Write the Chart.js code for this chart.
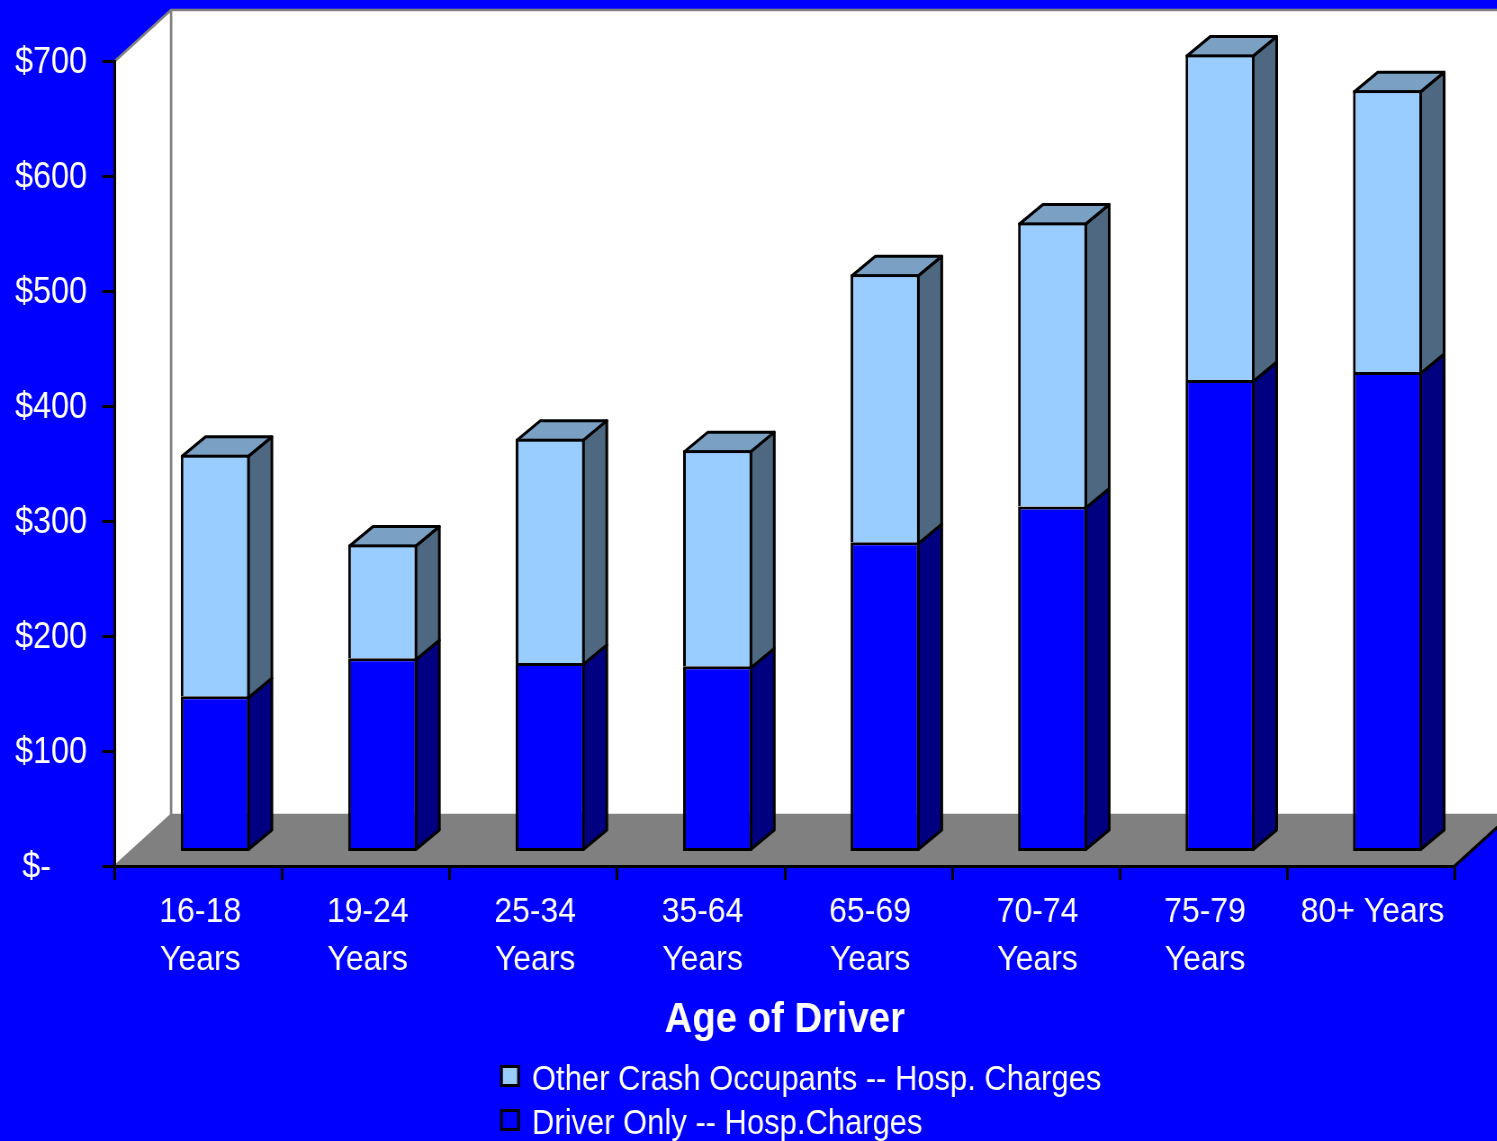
<!DOCTYPE html>
<html>
<head>
<meta charset="utf-8">
<title>Hospital charges by age of driver</title>
<script src="https://cdn.jsdelivr.net/npm/chart.js@4"></script>
<style>
  html, body { margin: 0; background: #0000ff; overflow: hidden; }
  /* narrow type: the canvas is laid out wider and squeezed back */
  #myChart { position: absolute; left: 0; top: 0; transform-origin: 0 0; transform: scaleX(0.9); }
</style>
</head>
<body>
<canvas id="myChart" width="1663" height="1141"></canvas>
<script>
const SQUEEZE = 0.9;

const categories = [
  ["16-18", "Years"], ["19-24", "Years"], ["25-34", "Years"], ["35-64", "Years"],
  ["65-69", "Years"], ["70-74", "Years"], ["75-79", "Years"], "80+ Years",
];
const driverOnly = [135, 168, 164, 161, 269, 300, 410, 417];
const otherOccupants = [210, 99, 195, 188, 233, 247, 283, 245];
const yTickLabels = ["$-\u00a0\u00a0\u00a0\u00a0", "$100", "$200", "$300", "$400", "$500", "$600", "$700"];

const FONT = "'Liberation Sans', Arial, sans-serif";
const WHITE = "#ffffff";
const WALL_DX = 56 / SQUEEZE, WALL_DY = -51;
const BAR_DX = 16.5 / SQUEEZE, BAR_DY = -14.5;
const SIDE_DX = 23.5 / SQUEEZE, SIDE_DY = -19.5;
const BORDER = 3;

const poly = (ctx, pts, fill, stroke, lw) => {
  ctx.beginPath();
  pts.forEach((p, i) => (i ? ctx.lineTo(p[0], p[1]) : ctx.moveTo(p[0], p[1])));
  ctx.closePath();
  if (fill) { ctx.fillStyle = fill; ctx.fill(); }
  if (stroke) { ctx.strokeStyle = stroke; ctx.lineWidth = lw; ctx.lineJoin = "round"; ctx.stroke(); }
};

// back wall, side wall and floor behind the axes
const room = {
  id: "room",
  beforeDraw(chart) {
    const { ctx, chartArea: a } = chart;
    ctx.save();
    ctx.fillStyle = "#0000ff";
    ctx.fillRect(0, 0, chart.width, chart.height);
    const backLeft = a.left + WALL_DX, backRight = a.right + WALL_DX;
    const backTop = a.top + WALL_DY, backBottom = a.bottom + WALL_DY;
    poly(ctx, [[backLeft, backTop], [backRight, backTop], [backRight, backBottom], [backLeft, backBottom]], WHITE, "#808080", 2.5);
    poly(ctx, [[a.left, a.top], [backLeft, backTop], [backLeft, backBottom], [a.left, a.bottom]], WHITE, "#808080", 2.5);
    poly(ctx, [[a.left, a.bottom], [backLeft, backBottom], [backRight, backBottom], [a.right, a.bottom]], "#808080");
    ctx.beginPath();
    ctx.moveTo(a.right, a.bottom);
    ctx.lineTo(backRight, backBottom);
    ctx.strokeStyle = "#000";
    ctx.lineWidth = 3;
    ctx.stroke();
    ctx.restore();
  },
};

// side and top faces of each bar; the front faces come from Chart.js, pushed into the room
const boxes = {
  id: "boxes",
  beforeDatasetsDraw(chart) {
    const { ctx } = chart;
    ctx.save();
    ctx.translate(BAR_DX, BAR_DY);
    const inset = BORDER / 2;
    chart.data.datasets.forEach((ds, d) => {
      chart.getDatasetMeta(d).data.forEach((bar) => {
        const r = bar.x + bar.width / 2 - inset, l = bar.x - bar.width / 2 + inset;
        const top = bar.y + inset;
        const bottom = d === 0 ? bar.base - inset : bar.base + inset;
        poly(ctx, [[r, top], [r + SIDE_DX, top + SIDE_DY], [r + SIDE_DX, bottom + SIDE_DY], [r, bottom]], ds.sideColor, "#000", BORDER);
        if (d === chart.data.datasets.length - 1) {
          poly(ctx, [[l, top], [l + SIDE_DX, top + SIDE_DY], [r + SIDE_DX, top + SIDE_DY], [r, top]], ds.topColor, "#000", BORDER);
        }
      });
    });
  },
  afterDatasetsDraw(chart) {
    chart.ctx.restore();
  },
};

// two stacked rows, upper series first
const legendRows = {
  id: "legendRows",
  afterDraw(chart) {
    const { ctx } = chart;
    ctx.save();
    ctx.font = "34.4px " + FONT;
    ctx.textBaseline = "alphabetic";
    [...chart.data.datasets].reverse().forEach((ds, i) => {
      const y = 1066.5 + i * 44;
      ctx.fillStyle = ds.backgroundColor;
      ctx.strokeStyle = "#000";
      ctx.lineWidth = 3;
      ctx.fillRect(501.5 / SQUEEZE, y, 17 / SQUEEZE, 19);
      ctx.strokeRect(501.5 / SQUEEZE, y, 17 / SQUEEZE, 19);
      ctx.fillStyle = WHITE;
      ctx.fillText(ds.label, 532 / SQUEEZE, y + 23.5);
    });
    ctx.restore();
  },
};

new Chart(document.getElementById("myChart"), {
  type: "bar",
  data: {
    labels: categories,
    datasets: [
      {
        label: "Driver Only -- Hosp.Charges",
        data: driverOnly,
        backgroundColor: "#0000ff",
        sideColor: "#000080",
        borderSkipped: false,
      },
      {
        label: "Other Crash Occupants -- Hosp. Charges",
        data: otherOccupants,
        backgroundColor: "#99ccff",
        sideColor: "#4d6880",
        topColor: "#7aa0c4",
      },
    ],
  },
  options: {
    responsive: false,
    animation: false,
    events: [],
    layout: { padding: { left: 0, right: 42 / SQUEEZE, top: 61, bottom: 0 } },
    datasets: {
      bar: {
        clip: false,
        borderColor: "#000000",
        borderWidth: BORDER,
        categoryPercentage: 1,
        barPercentage: 0.412,
      },
    },
    scales: {
      x: {
        stacked: true,
        afterFit: (s) => { s.height = 275; },
        border: { color: "#000", width: 3 },
        grid: { drawOnChartArea: false, tickColor: "#000", tickWidth: 3, tickLength: 14 },
        ticks: {
          color: WHITE,
          maxRotation: 0,
          autoSkip: false,
          padding: 8,
          labelOffset: 1.5 / SQUEEZE,
          font: { family: FONT, size: 35.5, lineHeight: 1.352 },
        },
        title: {
          display: true,
          text: "Age of Driver",
          color: WHITE,
          font: { family: FONT, size: 42.5, weight: "bold", lineHeight: 1.2 },
          padding: { top: 0, bottom: 95 },
        },
      },
      y: {
        stacked: true,
        min: 0,
        max: 700,
        afterFit: (s) => { s.width = 115 / SQUEEZE; },
        border: { color: "#000", width: 3 },
        grid: { drawOnChartArea: false, tickColor: "#000", tickWidth: 3, tickLength: 14 },
        ticks: {
          stepSize: 100,
          color: WHITE,
          padding: 17,
          labelOffset: 2.5,
          font: { family: FONT, size: 36 },
          callback: (v, i) => yTickLabels[i],
        },
      },
    },
    plugins: { legend: { display: false }, tooltip: { enabled: false } },
  },
  plugins: [room, boxes, legendRows],
});
</script>
</body>
</html>
